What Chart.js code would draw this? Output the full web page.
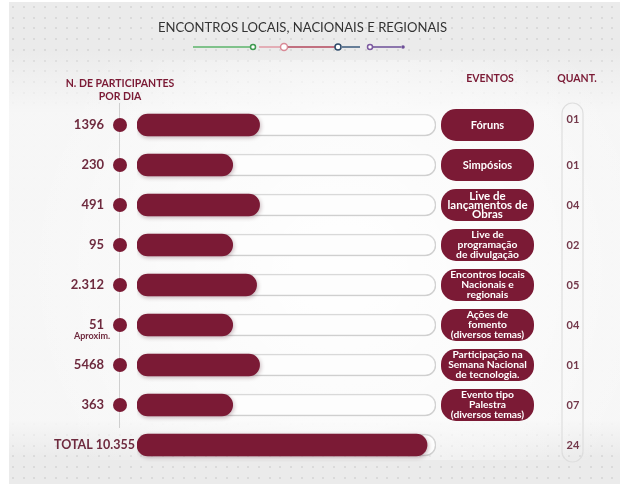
<!DOCTYPE html>
<html>
<head>
<meta charset="utf-8">
<script src="https://cdn.jsdelivr.net/npm/chart.js@4.4.1/dist/chart.umd.min.js"></script>
<style>
  html, body { margin: 0; padding: 0; background: #fff; }
  canvas { display: block; }
</style>
</head>
<body>
<canvas id="myChart" width="624" height="484"></canvas>
<script>
'use strict';
// rows of the infographic (last one is the total)
const events = [
  ['Fóruns'],
  ['Simpósios'],
  ['Live de', 'lançamentos de', 'Obras'],
  ['Live de', 'programação', 'de divulgação'],
  ['Encontros locais', 'Nacionais e', 'regionais'],
  ['Ações de', 'fomento', '(diversos temas)'],
  ['Participação na', 'Semana Nacional', 'de tecnologia.'],
  ['Evento tipo', 'Palestra', '(diversos temas)'],
  []
];
const participants = ['1396', '230', '491', '95', '2.312', '51', '5468', '363', 'TOTAL 10.355'];
const quantities = ['01', '01', '04', '02', '05', '04', '01', '07', '24'];
// bar length as drawn (percent of the track)
const barFill = [41, 32, 41, 32, 40, 32, 41, 32, 97];
const trackFull = [100, 100, 100, 100, 100, 100, 100, 100, 100];

const MAROON = '#7b1a35';
const TEXT = '#6e2a3e';

/////////////////////////////////////////////////////

function roundRect(ctx, x, y, w, h, r) {
  ctx.beginPath();
  ctx.moveTo(x + r, y);
  ctx.lineTo(x + w - r, y);
  ctx.arc(x + w - r, y + r, r, -Math.PI / 2, 0);
  ctx.lineTo(x + w, y + h - r);
  ctx.arc(x + w - r, y + h - r, r, 0, Math.PI / 2);
  ctx.lineTo(x + r, y + h);
  ctx.arc(x + r, y + h - r, r, Math.PI / 2, Math.PI);
  ctx.lineTo(x, y + r);
  ctx.arc(x + r, y + r, r, Math.PI, Math.PI * 1.5);
  ctx.closePath();
}

const background = {
  id: 'background',
  beforeDraw(chart) {
    const ctx = chart.ctx;
    ctx.save();
    ctx.fillStyle = '#ffffff';
    ctx.fillRect(0, 0, 624, 484);
    ctx.fillStyle = '#ebebeb';
    ctx.fillRect(9, 2, 611, 482);
    ctx.fillStyle = '#dadada';
    for (let y = 6; y < 484; y += 10.7) {
      for (let x = 12; x < 620; x += 10.7) {
        ctx.fillRect(Math.round(x), Math.round(y), 2, 2);
      }
    }
    // light centre
    const g = ctx.createLinearGradient(0, 50, 0, 470);
    g.addColorStop(0, 'rgba(247,247,247,0)');
    g.addColorStop(0.15, 'rgba(247,247,247,0.96)');
    g.addColorStop(0.88, 'rgba(247,247,247,0.96)');
    g.addColorStop(0.97, 'rgba(247,247,247,0)');
    ctx.fillStyle = g;
    ctx.fillRect(9, 50, 611, 420);
    const r = ctx.createRadialGradient(340, 270, 40, 340, 270, 320);
    r.addColorStop(0, 'rgba(255,255,255,0.9)');
    r.addColorStop(1, 'rgba(255,255,255,0)');
    ctx.fillStyle = r;
    ctx.fillRect(9, 60, 611, 400);
    ctx.restore();
  }
};

// soft shadow under the bars
const barShadow = {
  id: 'barShadow',
  beforeDatasetDraw(chart, args) {
    const ctx = chart.ctx;
    ctx.save();
    ctx.shadowColor = args.index === 0 ? 'rgba(60,0,20,0.28)' : 'rgba(0,0,0,0.10)';
    ctx.shadowBlur = 4;
    ctx.shadowOffsetX = 1;
    ctx.shadowOffsetY = 1.5;
  },
  afterDatasetDraw(chart) {
    chart.ctx.restore();
  }
};

const decorations = {
  id: 'decorations',
  afterDatasetsDraw(chart) {
    const ctx = chart.ctx;
    const yScale = chart.scales.y;
    ctx.save();

    // title
    ctx.fillStyle = '#333';
    ctx.textAlign = 'left';
    ctx.textBaseline = 'middle';
    ctx.font = '14px Lato';
    const title = 'ENCONTROS LOCAIS, NACIONAIS E REGIONAIS';
    const tw = ctx.measureText(title).width;
    ctx.save();
    ctx.translate(158, 27);
    ctx.scale(289 / tw, 1);
    ctx.fillText(title, 0, 0);
    ctx.restore();

    // little coloured line under the title
    ctx.lineWidth = 1.5;
    const seg = (x1, x2, c) => {
      ctx.strokeStyle = c;
      ctx.beginPath(); ctx.moveTo(x1, 47); ctx.lineTo(x2, 47); ctx.stroke();
    };
    const ring = (x, rad, c) => {
      ctx.strokeStyle = c; ctx.fillStyle = '#fff';
      ctx.beginPath(); ctx.arc(x, 47, rad, 0, Math.PI * 2); ctx.fill(); ctx.stroke();
    };
    seg(193, 250, '#5cb46b'); ring(253, 2.5, '#3f9a50');
    seg(259, 281, '#e09aa5'); ring(284, 3.5, '#d98a97');
    seg(288, 335, '#b3475c'); ring(338, 3, '#2e4a6a');
    seg(342, 360, '#3b5a7c');
    ring(370, 2.5, '#7d5aa0'); seg(373, 401, '#6d4f98');
    ctx.fillStyle = '#6d4f98';
    ctx.beginPath(); ctx.arc(403, 47, 1.8, 0, Math.PI * 2); ctx.fill();

    // headers
    ctx.font = 'bold 10.5px Lato';
    ctx.fillStyle = MAROON;
    ctx.textAlign = 'center';
    ctx.fillText('N. DE PARTICIPANTES', 120, 84);
    ctx.fillText('POR DIA', 120, 97);
    ctx.fillText('EVENTOS', 490, 79);
    ctx.fillText('QUANT.', 577, 79);

    // vertical guide line
    ctx.strokeStyle = '#cfcfcf';
    ctx.lineWidth = 1;
    ctx.beginPath(); ctx.moveTo(119.5, 103); ctx.lineTo(119.5, 428); ctx.stroke();

    // quantity column outline
    ctx.strokeStyle = '#dedede';
    ctx.lineWidth = 1.2;
    roundRect(ctx, 562, 103, 21, 359, 10.5);
    ctx.stroke();

    for (let i = 0; i < participants.length; i++) {
      const y = yScale.getPixelForValue(i);
      const last = i === participants.length - 1;

      ctx.textAlign = 'right';
      ctx.textBaseline = 'middle';
      ctx.fillStyle = TEXT;
      if (last) {
        ctx.font = 'bold 12.5px Lato';
        ctx.fillText(participants[i], 135, y);
      } else {
        ctx.font = 'bold 13px Lato';
        ctx.fillText(participants[i], 104, y);
        ctx.fillStyle = MAROON;
        ctx.beginPath(); ctx.arc(120, y, 7, 0, Math.PI * 2); ctx.fill();
        if (participants[i] === '51') {
          ctx.fillStyle = TEXT;
          ctx.font = 'bold 9px Lato';
          ctx.textAlign = 'center';
          ctx.fillText('Aproxim.', 92, y + 11);
        }
      }

      // event pill
      const lines = events[i];
      if (lines.length) {
        ctx.fillStyle = MAROON;
        roundRect(ctx, 441, y - 16, 93, 32, 15);
        ctx.fill();
        ctx.fillStyle = '#fff';
        ctx.textAlign = 'center';
        let lh = 10;
        if (lines.length === 1) ctx.font = 'bold 11px Lato';
        else if (i === 2) { ctx.font = 'bold 11.5px Lato'; lh = 9; }
        else ctx.font = 'bold 10.3px Lato';
        for (let k = 0; k < lines.length; k++) {
          ctx.fillText(lines[k], 487.5, y + (k - (lines.length - 1) / 2) * lh);
        }
      }

      // quantity
      ctx.fillStyle = '#73384a';
      ctx.font = 'bold 11px Lato';
      ctx.textAlign = 'center';
      ctx.fillText(quantities[i], 573, i === 0 ? y - 6 : y);
    }
    ctx.restore();
  }
};

let context = document.getElementById('myChart').getContext('2d');
let chart = new Chart(context, {
  type: 'bar',
  data: {
    labels: participants,
    datasets: [{
      label: 'fill',
      data: barFill,
      backgroundColor: MAROON,
      borderRadius: 11,
      borderSkipped: false,
      barThickness: 22,
      grouped: false,
      order: 0
    },
    {
      label: 'track',
      data: trackFull,
      backgroundColor: '#fdfdfd',
      borderColor: '#dddddd',
      borderWidth: 1.5,
      borderRadius: 11,
      borderSkipped: false,
      barThickness: 22,
      grouped: false,
      order: 1
    }]
  },
  options: {
    indexAxis: 'y',
    responsive: false,
    animation: false,
    layout: { padding: { left: 137, right: 188, top: 105, bottom: 19 } },
    scales: {
      x: { display: false, min: 0, max: 100 },
      y: { display: false }
    },
    plugins: {
      legend: { display: false },
      tooltip: { enabled: false }
    }
  },
  plugins: [background, barShadow, decorations]
});
</script>
</body>
</html>
